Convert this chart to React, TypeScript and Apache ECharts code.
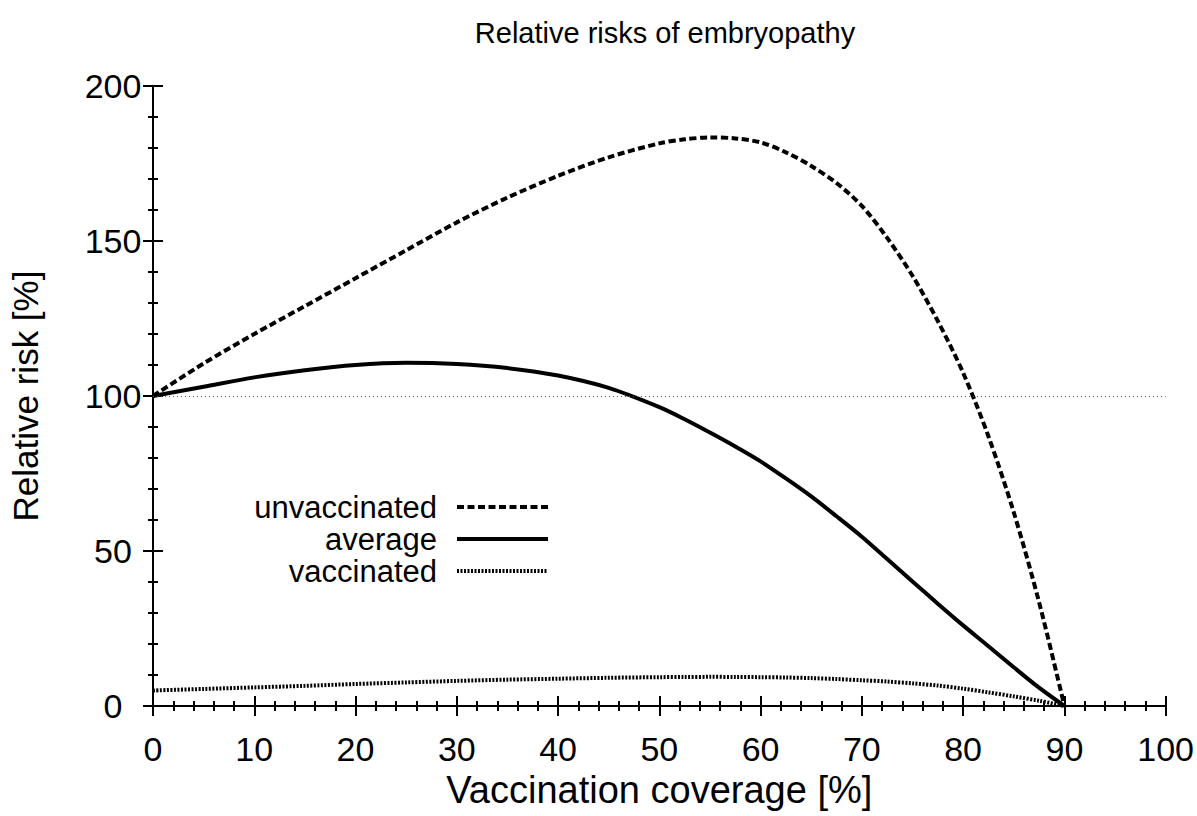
import React, { useEffect, useRef } from "react";
import * as echarts from "echarts";

const coverage = [0, 5, 10, 15, 20, 25, 30, 35, 40, 45, 50, 52.5, 55, 57.5, 60, 62.5, 65, 67.5, 70, 72.5, 75, 77.5, 80, 82.5, 85, 87.5, 90, 100];
const unvaccinated = [100, 110.5, 120, 129, 138, 147, 156, 164, 171, 177, 181.5, 182.8, 183.4, 183.1, 181.8, 178.6, 174.2, 168.7, 161.3, 151, 138.8, 124.2, 107.5, 87, 62.5, 33.5, 0, 0];
const average = [100, 103, 106, 108.3, 110, 110.7, 110.3, 109, 106.6, 102.6, 96.4, 92.5, 88.2, 83.7, 78.9, 73.4, 67.6, 61.2, 54.6, 47.4, 40.2, 33, 26, 19.3, 12.5, 5.9, 0, 0];
const vaccinated = [5, 5.5, 6, 6.5, 7.1, 7.6, 8.1, 8.5, 8.8, 9.1, 9.3, 9.35, 9.4, 9.38, 9.3, 9.2, 9, 8.7, 8.3, 7.9, 7.3, 6.6, 5.6, 4.4, 3.1, 1.7, 0, 0];
const seriesNames = ["unvaccinated", "average", "vaccinated"];
const referenceLevel = 100;

const FONT = "'Liberation Sans', Arial, sans-serif";
const FS_TITLE = 29;
const FS = 34;
const FS_LEGEND = 31;

const dashes: any[] = [[7, 3.5], "solid", [2, 1.5]];
const widths = [4, 4, 4];

export default function App() {
  const ref = useRef<HTMLDivElement>(null);
  useEffect(() => {
    if (!ref.current) return;
    const chart = echarts.init(ref.current, null, { renderer: "svg" });
    const n = coverage.length;
    const curve = (ys: number[]) => coverage.slice(0, n - 1).map((x, i) => [x, ys[i]]);
    const tail = (ys: number[]) => coverage.slice(n - 2).map((x, i) => [x, ys[n - 2 + i]]);
    const axisLine = { show: true, lineStyle: { color: "#000", width: 2 } };
    const tick = { show: true, length: 10, lineStyle: { color: "#000", width: 2 } };
    const minor = { show: true, splitNumber: 5, length: 5, lineStyle: { color: "#000", width: 2 } };
    const allY = [unvaccinated, average, vaccinated];

    const legendX = 437;
    const legendRows = [507, 539, 571];
    const graphic: any[] = [];
    seriesNames.forEach((name, i) => {
      graphic.push({
        type: "text",
        x: legendX,
        y: legendRows[i],
        style: {
          text: name,
          fontFamily: FONT,
          fontSize: FS_LEGEND,
          lineHeight: 30,
          fill: "#000",
          align: "right",
          verticalAlign: "middle",
        },
      });
      graphic.push({
        type: "line",
        shape: { x1: legendX + 20, y1: legendRows[i], x2: legendX + 111, y2: legendRows[i] },
        style: {
          stroke: "#000",
          lineWidth: widths[i],
          lineDash: dashes[i] === "solid" ? null : dashes[i],
        },
      });
    });

    const series: any[] = seriesNames.map((name, i) => ({
      name,
      type: "line",
      data: curve(allY[i]),
      symbol: "none",
      smooth: 0.3,
      lineStyle: { color: "#000", width: widths[i], type: dashes[i] },
      itemStyle: { color: "#000" },
      z: [3, 4, 2][i],
    }));
    series[0].markLine = {
      silent: true,
      symbol: "none",
      label: { show: false },
      lineStyle: { color: "#555", width: 1, type: [1, 3] },
      data: [{ yAxis: referenceLevel }],
    };
    seriesNames.forEach((name, i) => {
      series.push({
        name: name + "-tail",
        type: "line",
        data: tail(allY[i]),
        symbol: "none",
        lineStyle: { color: "#000", width: 2, type: "solid" },
        z: 2,
      });
    });

    chart.setOption({
      animation: false,
      backgroundColor: "#fff",
      textStyle: { fontFamily: FONT },
      title: {
        text: "Relative risks of embryopathy",
        left: 660,
        top: 13,
        textAlign: "center",
        textStyle: { fontFamily: FONT, fontSize: FS_TITLE, fontWeight: "normal", color: "#000" },
      },
      grid: { left: 153, right: 31, top: 86, bottom: 110, containLabel: false },
      graphic,
      xAxis: [
        {
          type: "value",
          min: 0,
          max: 100,
          interval: 10,
          name: "Vaccination coverage [%]",
          nameLocation: "middle",
          nameGap: 57,
          nameTextStyle: { fontFamily: FONT, fontSize: 38, color: "#000" },
          axisLine,
          axisTick: tick,
          minorTick: minor,
          splitLine: { show: false },
          axisLabel: { fontFamily: FONT, fontSize: FS, color: "#000", margin: 26 },
        },
        {
          type: "value",
          position: "top",
          min: 0,
          max: 100,
          interval: 10,
          axisLine,
          axisTick: tick,
          minorTick: minor,
          splitLine: { show: false },
          axisLabel: { show: false },
        },
      ],
      yAxis: [
        {
          type: "value",
          min: 0,
          max: 200,
          interval: 50,
          name: "Relative risk [%]",
          nameLocation: "middle",
          nameGap: 110,
          nameTextStyle: { fontFamily: FONT, fontSize: 35, color: "#000" },
          axisLine,
          axisTick: tick,
          minorTick: minor,
          splitLine: { show: false },
          axisLabel: { fontFamily: FONT, fontSize: FS, color: "#000", margin: 40, align: "center" },
        },
        {
          type: "value",
          position: "right",
          min: 0,
          max: 200,
          interval: 50,
          axisLine,
          axisTick: tick,
          minorTick: minor,
          splitLine: { show: false },
          axisLabel: { show: false },
        },
      ],
      series,
    });
    return () => chart.dispose();
  }, []);
  return (
    <div
      ref={ref}
      style={{ position: "fixed", left: 0, top: 0, width: 1197, height: 816, background: "#fff" }}
    />
  );
}
